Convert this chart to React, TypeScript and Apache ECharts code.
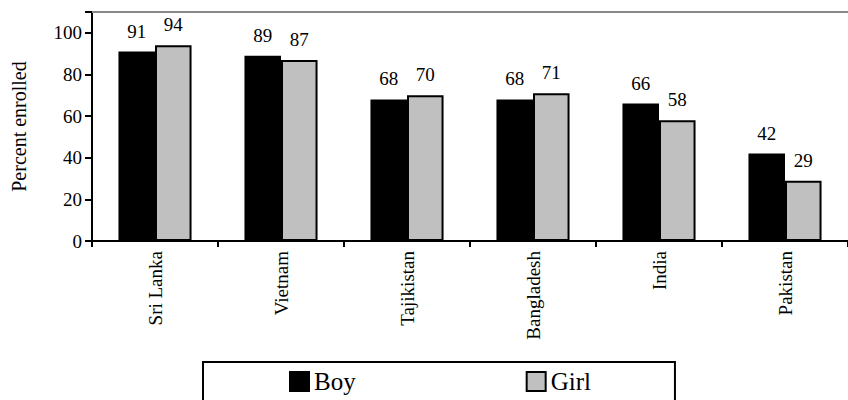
import React, { useEffect, useRef } from "react";
import * as echarts from "echarts";

const categories = ["Sri Lanka", "Vietnam", "Tajikistan", "Bangladesh", "India", "Pakistan"];
const boyValues = [91, 89, 68, 68, 66, 42];
const girlValues = [94, 87, 70, 71, 58, 29];
const yTicks = { min: 0, max: 110, interval: 20 };

const FONT = "'Liberation Serif', 'Times New Roman', serif";

export default function App() {
  const ref = useRef<HTMLDivElement>(null);
  useEffect(() => {
    const chart = echarts.init(ref.current!, undefined, { renderer: "svg" });
    const labelCfg = {
      show: true,
      position: "top",
      distance: 11,
      color: "#000",
      fontFamily: FONT,
      fontSize: 19,
    };
    chart.setOption({
      animation: false,
      backgroundColor: "#fff",
      textStyle: { fontFamily: FONT },
      grid: { left: 92, top: 12, right: -8, bottom: 159, containLabel: false },
      legend: {
        top: 362,
        left: 203,
        itemWidth: 19,
        itemHeight: 19,
        itemGap: 170,
        borderColor: "#000",
        borderWidth: 2,
        borderRadius: 0,
        padding: [7, 84, 24, 86],
        icon: "rect",
        textStyle: { fontFamily: FONT, fontSize: 25, color: "#000" },
        data: ["Boy", "Girl"],
      },
      xAxis: [
        {
          type: "category",
          data: categories,
          axisLine: { lineStyle: { color: "#000", width: 2 } },
          axisTick: { show: true, length: 6, lineStyle: { color: "#000", width: 2 } },
          axisLabel: {
            rotate: 90,
            color: "#000",
            fontFamily: FONT,
            fontSize: 19,
            margin: 10,
            interval: 0,
          },
        },
        {
          type: "category",
          position: "top",
          data: categories,
          axisLine: { show: true, lineStyle: { color: "#888", width: 2 } },
          axisTick: { show: false },
          axisLabel: { show: false },
        },
      ],
      yAxis: {
        type: "value",
        min: yTicks.min,
        max: yTicks.max,
        interval: yTicks.interval,
        name: "Percent enrolled",
        nameLocation: "middle",
        nameGap: 63,
        nameRotate: 90,
        nameTextStyle: { fontFamily: FONT, fontSize: 20, color: "#000" },
        axisLine: { show: true, lineStyle: { color: "#000", width: 2 } },
        axisTick: { show: true, length: 7, lineStyle: { color: "#000", width: 2 } },
        axisLabel: {
          color: "#000",
          fontFamily: FONT,
          fontSize: 19,
          margin: 10,
          formatter: (v: number) => (v > 100 ? "" : String(v)),
        },
        splitLine: { show: false },
      },
      series: [
        {
          name: "Boy",
          type: "bar",
          data: boyValues,
          barWidth: "29%",
          barGap: "0%",
          itemStyle: { color: "#000", borderColor: "#000", borderWidth: 2 },
          label: labelCfg,
        },
        {
          name: "Girl",
          type: "bar",
          data: girlValues,
          barWidth: "29%",
          barGap: "0%",
          itemStyle: { color: "#c0c0c0", borderColor: "#000", borderWidth: 2 },
          label: labelCfg,
        },
      ],
    });
    return () => chart.dispose();
  }, []);
  return (
    <div style={{ position: "fixed", left: 0, top: 0, width: 848, height: 400, overflow: "hidden" }}>
      <div ref={ref} style={{ width: 848, height: 400 }} />
    </div>
  );
}
